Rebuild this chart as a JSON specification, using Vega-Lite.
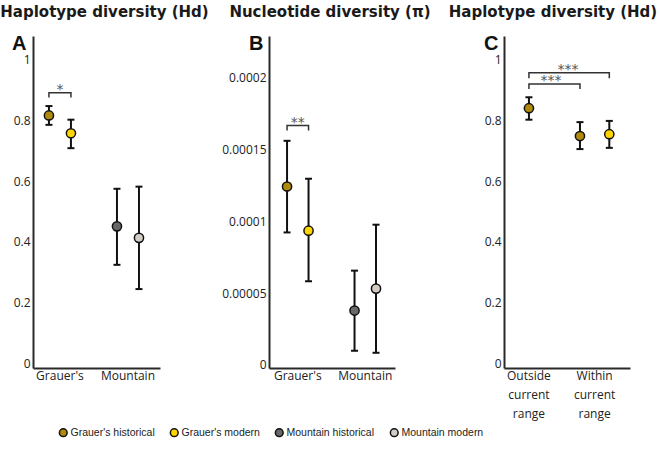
{
  "$schema": "https://vega.github.io/schema/vega-lite/v6.json",
  "background": "white",
  "padding": {"left": 0, "top": 5, "right": 2, "bottom": 5},
  "spacing": 109,
  "bounds": "flush",
  "config": {
    "view": {"stroke": null},
    "axis": {"labelFont": "Open Sans", "labelFontSize": 12, "labelColor": "#222", "domainColor": "#2a2a2a", "domainWidth": 2, "ticks": false, "grid": false, "labelPadding": 3},
    "title": {"font": "DejaVu Sans", "fontSize": 15, "fontWeight": "bold", "color": "#1a1a1a", "offset": 13, "anchor": "middle", "frame": "group"},
    "legend": {"labelFont": "Liberation Sans", "labelFontSize": 10.5, "labelColor": "#222", "symbolSize": 60, "symbolStrokeWidth": 1.5, "symbolStrokeColor": "#111", "columnPadding": 12, "labelOffset": 2}
  },
  "datasets": {
    "points": [
      {"panel": "A", "group": "Grauer's", "sub": "historical", "series": "Grauer's historical", "value": 0.817, "lower": 0.786, "upper": 0.848},
      {"panel": "A", "group": "Grauer's", "sub": "modern", "series": "Grauer's modern", "value": 0.758, "lower": 0.709, "upper": 0.803},
      {"panel": "A", "group": "Mountain", "sub": "historical", "series": "Mountain historical", "value": 0.451, "lower": 0.324, "upper": 0.575},
      {"panel": "A", "group": "Mountain", "sub": "modern", "series": "Mountain modern", "value": 0.413, "lower": 0.244, "upper": 0.582},
      {"panel": "B", "group": "Grauer's", "sub": "historical", "series": "Grauer's historical", "value": 0.0001243, "lower": 0.0000923, "upper": 0.0001561},
      {"panel": "B", "group": "Grauer's", "sub": "modern", "series": "Grauer's modern", "value": 0.0000935, "lower": 0.0000583, "upper": 0.0001297},
      {"panel": "B", "group": "Mountain", "sub": "historical", "series": "Mountain historical", "value": 0.0000379, "lower": 0.0000099, "upper": 0.0000657},
      {"panel": "B", "group": "Mountain", "sub": "modern", "series": "Mountain modern", "value": 0.0000532, "lower": 0.0000085, "upper": 0.0000977},
      {"panel": "C", "group": "Outside current range", "sub": "historical only", "series": "Grauer's historical", "value": 0.841, "lower": 0.803, "upper": 0.877},
      {"panel": "C", "group": "Within current range", "sub": "historical", "series": "Grauer's historical", "value": 0.749, "lower": 0.706, "upper": 0.795},
      {"panel": "C", "group": "Within current range", "sub": "modern", "series": "Grauer's modern", "value": 0.755, "lower": 0.710, "upper": 0.799}
    ],
    "brackets": [
      {"panel": "A", "id": "a", "order": 1, "group": "Grauer's", "sub": "historical", "y": 0.876},
      {"panel": "A", "id": "a", "order": 2, "group": "Grauer's", "sub": "historical", "y": 0.892},
      {"panel": "A", "id": "a", "order": 3, "group": "Grauer's", "sub": "modern", "y": 0.892},
      {"panel": "A", "id": "a", "order": 4, "group": "Grauer's", "sub": "modern", "y": 0.876},
      {"panel": "B", "id": "b", "order": 1, "group": "Grauer's", "sub": "historical", "y": 0.0001633},
      {"panel": "B", "id": "b", "order": 2, "group": "Grauer's", "sub": "historical", "y": 0.0001668},
      {"panel": "B", "id": "b", "order": 3, "group": "Grauer's", "sub": "modern", "y": 0.0001668},
      {"panel": "B", "id": "b", "order": 4, "group": "Grauer's", "sub": "modern", "y": 0.0001633},
      {"panel": "C", "id": "c1", "order": 1, "group": "Outside current range", "sub": "historical only", "y": 0.904},
      {"panel": "C", "id": "c1", "order": 2, "group": "Outside current range", "sub": "historical only", "y": 0.921},
      {"panel": "C", "id": "c1", "order": 3, "group": "Within current range", "sub": "historical", "y": 0.921},
      {"panel": "C", "id": "c1", "order": 4, "group": "Within current range", "sub": "historical", "y": 0.904},
      {"panel": "C", "id": "c2", "order": 1, "group": "Outside current range", "sub": "historical only", "y": 0.940},
      {"panel": "C", "id": "c2", "order": 2, "group": "Outside current range", "sub": "historical only", "y": 0.958},
      {"panel": "C", "id": "c2", "order": 3, "group": "Within current range", "sub": "modern", "y": 0.958},
      {"panel": "C", "id": "c2", "order": 4, "group": "Within current range", "sub": "modern", "y": 0.940}
    ],
    "stars": [
      {"panel": "A", "id": "a", "group": "Grauer's", "y": 0.887, "label": "*"},
      {"panel": "B", "id": "b", "group": "Grauer's", "y": 0.0001657, "label": "**"},
      {"panel": "C", "id": "c1", "group": "Outside current range", "y": 0.919, "label": "***"},
      {"panel": "C", "id": "c2", "group": "Outside current range", "y": 0.955, "label": "***"}
    ]
  },
  "resolve": {"scale": {"color": "shared", "xOffset": "independent", "x": "independent", "y": "independent"}, "legend": {"color": "shared"}},
  "hconcat": [
    {
      "width": 127,
      "height": 332,
      "title": {"text": "Haplotype diversity (Hd)", "dx": 8},
      "encoding": {
        "x": {"field": "group", "type": "nominal", "scale": {"type": "band", "domain": ["Grauer's", "Mountain"], "paddingInner": 0.353, "paddingOuter": 0.11, "align": 0.33}, "axis": {"title": null, "labelAngle": 0, "labelPadding": 2}}
      },
      "layer": [
        {
          "data": {"name": "points"},
          "transform": [{"filter": "datum.panel === 'A'"}],
          "mark": {"type": "rule", "color": "#111", "strokeWidth": 2},
          "encoding": {
            "xOffset": {"field": "sub", "type": "nominal", "scale": {"domain": ["historical", "modern"]}},
            "y": {"field": "lower", "type": "quantitative", "scale": {"domain": [-0.0165, 1.0792], "nice": false, "zero": false}, "axis": {"values": [0, 0.2, 0.4, 0.6, 0.8, 1], "format": "~g", "title": "A", "titleAngle": 0, "titleFont": "Liberation Sans", "titleFontSize": 20, "titleFontWeight": "bold", "titleColor": "#111", "titleAlign": "right", "titleBaseline": "top", "titleX": -7, "titleY": -3}},
            "y2": {"field": "upper"}
          }
        },
        {
          "data": {"name": "points"},
          "transform": [{"filter": "datum.panel === 'A'"}],
          "mark": {"type": "point", "shape": "M-1,0H1", "stroke": "#111", "strokeWidth": 2, "size": 49, "filled": false, "opacity": 1},
          "encoding": {
            "xOffset": {"field": "sub", "type": "nominal", "scale": {"domain": ["historical", "modern"]}},
            "y": {"field": "lower", "type": "quantitative"}
          }
        },
        {
          "data": {"name": "points"},
          "transform": [{"filter": "datum.panel === 'A'"}],
          "mark": {"type": "point", "shape": "M-1,0H1", "stroke": "#111", "strokeWidth": 2, "size": 49, "filled": false, "opacity": 1},
          "encoding": {
            "xOffset": {"field": "sub", "type": "nominal", "scale": {"domain": ["historical", "modern"]}},
            "y": {"field": "upper", "type": "quantitative"}
          }
        },
        {
          "data": {"name": "points"},
          "transform": [{"filter": "datum.panel === 'A'"}],
          "mark": {"type": "point", "filled": true, "size": 85, "stroke": "#111", "strokeWidth": 1.5, "opacity": 1},
          "encoding": {
            "xOffset": {"field": "sub", "type": "nominal", "scale": {"domain": ["historical", "modern"]}},
            "y": {"field": "value", "type": "quantitative"},
            "color": {"field": "series", "type": "nominal", "scale": {"domain": ["Grauer's historical", "Grauer's modern", "Mountain historical", "Mountain modern"], "range": ["#b08a0b", "#ffd500", "#686868", "#d3ccc5"]}, "legend": {"title": null, "orient": "none", "direction": "horizontal", "legendX": 25, "legendY": 391}}
          }
        },
        {
          "data": {"name": "brackets"},
          "transform": [{"filter": "datum.panel === 'A'"}],
          "mark": {"type": "line", "color": "#333", "strokeWidth": 1.5},
          "encoding": {
            "xOffset": {"field": "sub", "type": "nominal", "scale": {"domain": ["historical", "modern"]}},
            "y": {"field": "y", "type": "quantitative"},
            "detail": {"field": "id"},
            "order": {"field": "order", "type": "quantitative"}
          }
        },
        {
          "data": {"name": "stars"},
          "transform": [{"filter": "datum.panel === 'A'"}],
          "mark": {"type": "text", "font": "DejaVu Sans", "fontSize": 14, "color": "#555", "fill": "#555", "opacity": 1, "baseline": "alphabetic"},
          "encoding": {
            "y": {"field": "y", "type": "quantitative"},
            "text": {"field": "label"}
          }
        }
      ]
    },
    {
      "width": 126,
      "height": 332,
      "title": {"text": "Nucleotide diversity (π)", "dx": -2},
      "encoding": {
        "x": {"field": "group", "type": "nominal", "scale": {"type": "band", "domain": ["Grauer's", "Mountain"], "paddingInner": 0.363, "paddingOuter": 0.115, "align": 0.47}, "axis": {"title": null, "labelAngle": 0, "labelPadding": 2}}
      },
      "layer": [
        {
          "data": {"name": "points"},
          "transform": [{"filter": "datum.panel === 'B'"}],
          "mark": {"type": "rule", "color": "#111", "strokeWidth": 2},
          "encoding": {
            "xOffset": {"field": "sub", "type": "nominal", "scale": {"domain": ["historical", "modern"]}},
            "y": {"field": "lower", "type": "quantitative", "scale": {"domain": [-0.0000021, 0.0002291], "nice": false, "zero": false}, "axis": {"values": [0, 0.00005, 0.0001, 0.00015, 0.0002], "format": "~g", "title": "B", "titleAngle": 0, "titleFont": "Liberation Sans", "titleFontSize": 20, "titleFontWeight": "bold", "titleColor": "#111", "titleAlign": "right", "titleBaseline": "top", "titleX": -6, "titleY": -3}},
            "y2": {"field": "upper"}
          }
        },
        {
          "data": {"name": "points"},
          "transform": [{"filter": "datum.panel === 'B'"}],
          "mark": {"type": "point", "shape": "M-1,0H1", "stroke": "#111", "strokeWidth": 2, "size": 49, "filled": false, "opacity": 1},
          "encoding": {
            "xOffset": {"field": "sub", "type": "nominal", "scale": {"domain": ["historical", "modern"]}},
            "y": {"field": "lower", "type": "quantitative"}
          }
        },
        {
          "data": {"name": "points"},
          "transform": [{"filter": "datum.panel === 'B'"}],
          "mark": {"type": "point", "shape": "M-1,0H1", "stroke": "#111", "strokeWidth": 2, "size": 49, "filled": false, "opacity": 1},
          "encoding": {
            "xOffset": {"field": "sub", "type": "nominal", "scale": {"domain": ["historical", "modern"]}},
            "y": {"field": "upper", "type": "quantitative"}
          }
        },
        {
          "data": {"name": "points"},
          "transform": [{"filter": "datum.panel === 'B'"}],
          "mark": {"type": "point", "filled": true, "size": 85, "stroke": "#111", "strokeWidth": 1.5, "opacity": 1},
          "encoding": {
            "xOffset": {"field": "sub", "type": "nominal", "scale": {"domain": ["historical", "modern"]}},
            "y": {"field": "value", "type": "quantitative"},
            "color": {"field": "series", "type": "nominal", "scale": {"domain": ["Grauer's historical", "Grauer's modern", "Mountain historical", "Mountain modern"], "range": ["#b08a0b", "#ffd500", "#686868", "#d3ccc5"]}}
          }
        },
        {
          "data": {"name": "brackets"},
          "transform": [{"filter": "datum.panel === 'B'"}],
          "mark": {"type": "line", "color": "#333", "strokeWidth": 1.5},
          "encoding": {
            "xOffset": {"field": "sub", "type": "nominal", "scale": {"domain": ["historical", "modern"]}},
            "y": {"field": "y", "type": "quantitative"},
            "detail": {"field": "id"},
            "order": {"field": "order", "type": "quantitative"}
          }
        },
        {
          "data": {"name": "stars"},
          "transform": [{"filter": "datum.panel === 'B'"}],
          "mark": {"type": "text", "font": "DejaVu Sans", "fontSize": 14, "color": "#555", "fill": "#555", "opacity": 1, "baseline": "alphabetic"},
          "encoding": {
            "y": {"field": "y", "type": "quantitative"},
            "text": {"field": "label"}
          }
        }
      ]
    },
    {
      "width": 126,
      "height": 332,
      "title": {"text": "Haplotype diversity (Hd)", "dx": -14},
      "encoding": {
        "x": {"field": "group", "type": "nominal", "scale": {"type": "band", "domain": ["Outside current range", "Within current range"], "paddingInner": 0.33, "paddingOuter": 0.124, "align": 0.18}, "axis": {"title": null, "labelAngle": 0, "labelPadding": 2, "labelExpr": "split(datum.label, ' ')", "labelLineHeight": 19}}
      },
      "layer": [
        {
          "data": {"name": "points"},
          "transform": [{"filter": "datum.panel === 'C'"}],
          "mark": {"type": "rule", "color": "#111", "strokeWidth": 2},
          "encoding": {
            "xOffset": {"field": "sub", "type": "nominal", "scale": {"domain": ["historical", "historical only", "modern"]}},
            "y": {"field": "lower", "type": "quantitative", "scale": {"domain": [-0.0165, 1.0792], "nice": false, "zero": false}, "axis": {"values": [0, 0.2, 0.4, 0.6, 0.8, 1], "format": "~g", "title": "C", "titleAngle": 0, "titleFont": "Liberation Sans", "titleFontSize": 20, "titleFontWeight": "bold", "titleColor": "#111", "titleAlign": "right", "titleBaseline": "top", "titleX": -6, "titleY": -3}},
            "y2": {"field": "upper"}
          }
        },
        {
          "data": {"name": "points"},
          "transform": [{"filter": "datum.panel === 'C'"}],
          "mark": {"type": "point", "shape": "M-1,0H1", "stroke": "#111", "strokeWidth": 2, "size": 49, "filled": false, "opacity": 1},
          "encoding": {
            "xOffset": {"field": "sub", "type": "nominal", "scale": {"domain": ["historical", "historical only", "modern"]}},
            "y": {"field": "lower", "type": "quantitative"}
          }
        },
        {
          "data": {"name": "points"},
          "transform": [{"filter": "datum.panel === 'C'"}],
          "mark": {"type": "point", "shape": "M-1,0H1", "stroke": "#111", "strokeWidth": 2, "size": 49, "filled": false, "opacity": 1},
          "encoding": {
            "xOffset": {"field": "sub", "type": "nominal", "scale": {"domain": ["historical", "historical only", "modern"]}},
            "y": {"field": "upper", "type": "quantitative"}
          }
        },
        {
          "data": {"name": "points"},
          "transform": [{"filter": "datum.panel === 'C'"}],
          "mark": {"type": "point", "filled": true, "size": 85, "stroke": "#111", "strokeWidth": 1.5, "opacity": 1},
          "encoding": {
            "xOffset": {"field": "sub", "type": "nominal", "scale": {"domain": ["historical", "historical only", "modern"]}},
            "y": {"field": "value", "type": "quantitative"},
            "color": {"field": "series", "type": "nominal", "scale": {"domain": ["Grauer's historical", "Grauer's modern", "Mountain historical", "Mountain modern"], "range": ["#b08a0b", "#ffd500", "#686868", "#d3ccc5"]}}
          }
        },
        {
          "data": {"name": "brackets"},
          "transform": [{"filter": "datum.panel === 'C'"}],
          "mark": {"type": "line", "color": "#333", "strokeWidth": 1.5},
          "encoding": {
            "xOffset": {"field": "sub", "type": "nominal", "scale": {"domain": ["historical", "historical only", "modern"]}},
            "y": {"field": "y", "type": "quantitative"},
            "detail": {"field": "id"},
            "order": {"field": "order", "type": "quantitative"}
          }
        },
        {
          "data": {"name": "stars"},
          "transform": [{"filter": "datum.id === 'c1'"}],
          "mark": {"type": "text", "font": "DejaVu Sans", "fontSize": 14, "color": "#555", "fill": "#555", "opacity": 1, "baseline": "alphabetic", "dx": 22},
          "encoding": {
            "y": {"field": "y", "type": "quantitative"},
            "text": {"field": "label"}
          }
        },
        {
          "data": {"name": "stars"},
          "transform": [{"filter": "datum.id === 'c2'"}],
          "mark": {"type": "text", "font": "DejaVu Sans", "fontSize": 14, "color": "#555", "fill": "#555", "opacity": 1, "baseline": "alphabetic", "dx": 39},
          "encoding": {
            "y": {"field": "y", "type": "quantitative"},
            "text": {"field": "label"}
          }
        }
      ]
    }
  ]
}
